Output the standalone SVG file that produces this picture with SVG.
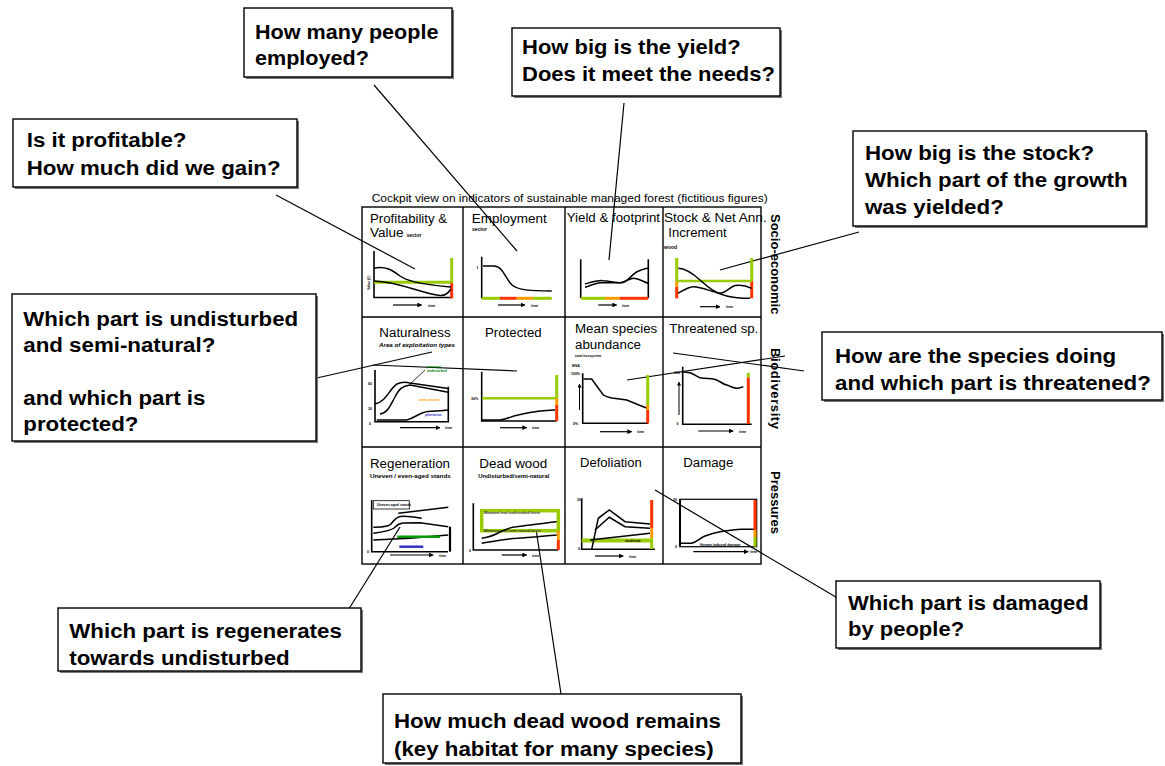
<svg xmlns="http://www.w3.org/2000/svg" width="1165" height="766" viewBox="0 0 1165 766">
<defs>
<style>
.q{font-family:"Liberation Sans",Arial,sans-serif;font-weight:bold;font-size:20px;fill:#000}
.box{fill:#fff;stroke:#000;stroke-width:1.4}
.sh{fill:#777;stroke:none}
.conn{stroke:#000;stroke-width:1.2;fill:none}
.grid{stroke:#000;stroke-width:1.4;fill:none}
.t{font-family:"Liberation Sans",Arial,sans-serif;font-size:12px;fill:#000}
.hd{font-family:"Liberation Sans",Arial,sans-serif;font-size:10.5px;fill:#000}
.side{font-family:"Liberation Sans",Arial,sans-serif;font-weight:bold;font-size:13px;fill:#000}
.s{font-family:"Liberation Sans",Arial,sans-serif;font-weight:bold;font-size:5px;fill:#000}
.xs{font-family:"Liberation Sans",Arial,sans-serif;font-weight:bold;font-size:3.5px;fill:#000}
.ax{stroke:#000;stroke-width:1.6;fill:none}
.cv{stroke:#000;stroke-width:1.5;fill:none}
.g{stroke:#99cc00;stroke-width:3;fill:none}
.o{stroke:#ff9900;stroke-width:3;fill:none}
.r{stroke:#ff3300;stroke-width:3;fill:none}
.arr{stroke:#000;stroke-width:1.2;fill:none;marker-end:url(#ah)}
</style>
<marker id="ah" viewBox="0 0 10 10" refX="9" refY="5" markerWidth="4" markerHeight="4" orient="auto">
<path d="M0,0 L10,5 L0,10 z" fill="#000"/>
</marker>
</defs>
<rect x="0" y="0" width="1165" height="766" fill="#fff"/>

<!-- connectors -->
<g id="connectors">
<line class="conn" x1="276" y1="195" x2="415" y2="269"/>
<line class="conn" x1="374" y1="85" x2="517" y2="251"/>
<line class="conn" x1="624" y1="103" x2="609" y2="260"/>
<line class="conn" x1="859" y1="232" x2="720" y2="270"/>
<line class="conn" x1="804" y1="371" x2="673" y2="353"/>
<line class="conn" x1="785" y1="356" x2="627" y2="380"/>
<line class="conn" x1="268" y1="389" x2="432" y2="352"/>
<line class="conn" x1="373" y1="365" x2="517" y2="371"/>
<line class="conn" x1="400" y1="527" x2="342" y2="620"/>
<line class="conn" x1="536" y1="529" x2="563" y2="707"/>
<line class="conn" x1="655" y1="490" x2="851" y2="606"/>
</g>

<!-- callouts -->
<g id="q-profit">
<rect class="sh" x="15" y="121" width="284" height="68"/>
<rect class="box" x="13" y="119" width="284" height="68"/>
<text class="q" transform="translate(26.7,147.3) scale(1.115,1)">Is it profitable?</text>
<text class="q" transform="translate(26.7,175) scale(1.115,1)">How much did we gain?</text>
</g>
<g id="q-employ">
<rect class="sh" x="246" y="10" width="208" height="69"/>
<rect class="box" x="244" y="8" width="208" height="69"/>
<text class="q" transform="translate(255,38.5) scale(1.08,1)">How many people</text>
<text class="q" transform="translate(255,65) scale(1.08,1)">employed?</text>
</g>
<g id="q-yield">
<rect class="sh" x="514" y="30" width="268" height="68"/>
<rect class="box" x="512" y="28" width="268" height="68"/>
<text class="q" transform="translate(522,54) scale(1.1,1)">How big is the yield?</text>
<text class="q" transform="translate(522,81) scale(1.1,1)">Does it meet the needs?</text>
</g>
<g id="q-stock">
<rect class="sh" x="855" y="133" width="293" height="95"/>
<rect class="box" x="853" y="131" width="293" height="95"/>
<text class="q" transform="translate(865,160) scale(1.115,1)">How big is the stock?</text>
<text class="q" transform="translate(865,187.3) scale(1.115,1)">Which part of the growth</text>
<text class="q" transform="translate(865,214) scale(1.115,1)">was yielded?</text>
</g>
<g id="q-species">
<rect class="sh" x="824" y="334" width="340" height="68"/>
<rect class="box" x="822" y="332" width="340" height="68"/>
<text class="q" transform="translate(835,363.3) scale(1.115,1)">How are the species doing</text>
<text class="q" transform="translate(835,390) scale(1.115,1)">and which part is threatened?</text>
</g>
<g id="q-natural">
<rect class="sh" x="14" y="296" width="304" height="147"/>
<rect class="box" x="12" y="294" width="304" height="147"/>
<text class="q" transform="translate(23.3,326) scale(1.115,1)">Which part is undisturbed</text>
<text class="q" transform="translate(23.3,352.3) scale(1.115,1)">and semi-natural?</text>
<text class="q" transform="translate(23.3,404.6) scale(1.115,1)">and which part is</text>
<text class="q" transform="translate(23.3,430.8) scale(1.115,1)">protected?</text>
</g>
<g id="q-regen">
<rect class="sh" x="60" y="610" width="303" height="63"/>
<rect class="box" x="58" y="608" width="303" height="63"/>
<text class="q" transform="translate(69.3,638.3) scale(1.115,1)">Which part is regenerates</text>
<text class="q" transform="translate(69.3,665) scale(1.115,1)">towards undisturbed</text>
</g>
<g id="q-damage">
<rect class="sh" x="838" y="583" width="264" height="67"/>
<rect class="box" x="836" y="581" width="264" height="67"/>
<text class="q" transform="translate(848,610) scale(1.1,1)">Which part is damaged</text>
<text class="q" transform="translate(848,636) scale(1.1,1)">by people?</text>
</g>
<g id="q-deadwood">
<rect class="sh" x="385" y="696" width="358" height="69"/>
<rect class="box" x="383" y="694" width="358" height="69"/>
<text class="q" transform="translate(394,728.3) scale(1.115,1)">How much dead wood remains</text>
<text class="q" transform="translate(394,755.5) scale(1.115,1)">(key habitat for many species)</text>
</g>

<!-- cockpit grid -->
<g id="cockpit">
<text class="hd" x="371.7" y="201.7" textLength="396" lengthAdjust="spacingAndGlyphs">Cockpit view on indicators of sustainable managed forest (fictitious figures)</text>
<rect class="grid" x="362" y="207" width="399" height="357"/>
<line class="grid" x1="463" y1="207" x2="463" y2="564"/>
<line class="grid" x1="565" y1="207" x2="565" y2="564"/>
<line class="grid" x1="663" y1="207" x2="663" y2="564"/>
<line class="grid" x1="362" y1="317" x2="761" y2="317"/>
<line class="grid" x1="362" y1="447" x2="761" y2="447"/>
<text class="side" transform="translate(770.5,214) rotate(90)">Socio-economic</text>
<text class="side" transform="translate(770.5,348) rotate(90)" letter-spacing="0.6">Biodiversity</text>
<text class="side" transform="translate(770.5,471) rotate(90)">Pressures</text>
</g>

<g id="cell-profitability">
<text class="t" x="370" y="223.3" textLength="77" lengthAdjust="spacingAndGlyphs">Profitability &amp;</text>
<text class="t" x="370" y="236.7" textLength="33.5" lengthAdjust="spacingAndGlyphs">Value</text>
<text class="s" x="406.5" y="236.7">sector</text>
<path class="ax" d="M374,251 V297.5 H451"/>
<line class="g" x1="374" y1="282.3" x2="451" y2="282.3"/>
<line class="g" x1="451.7" y1="258" x2="451.7" y2="283"/>
<line class="r" x1="451.7" y1="283" x2="451.7" y2="298.5"/>
<path class="cv" d="M374,268 C386,266 392,270 400,276 C410,283 430,285 451,287"/>
<path class="cv" d="M374,281 C400,282 420,293 440,295.5 C446,296 449,292 451,289"/>
<text class="xs" transform="translate(370,290) rotate(-90)">Value (€)</text>
<line class="arr" x1="393" y1="305" x2="421.7" y2="305"/>
<text class="xs" x="428" y="306.5">time</text>
</g>

<g id="cell-employment">
<text class="t" x="471.7" y="223.3" textLength="75" lengthAdjust="spacingAndGlyphs">Employment</text>
<text class="s" x="472" y="231">sector</text>
<path class="ax" d="M481.7,256.7 V298.3"/>
<line class="g" x1="482" y1="298.3" x2="500" y2="298.3"/>
<line class="r" x1="500" y1="298.3" x2="516.7" y2="298.3"/>
<line class="o" x1="516.7" y1="298.3" x2="533.3" y2="298.3"/>
<line class="g" x1="533.3" y1="298.3" x2="551.7" y2="298.3"/>
<path class="cv" d="M483,266 L494,266 C503,266 506,280 512,285 C518,290 530,291 551.7,291"/>
<text class="xs" x="476.5" y="268.5">1</text>
<line class="arr" x1="498" y1="305" x2="525" y2="305"/>
<text class="xs" x="531" y="306.5">time</text>
</g>

<g id="cell-yield">
<text class="t" x="566.7" y="222.3" textLength="93.3" lengthAdjust="spacingAndGlyphs">Yield &amp; footprint</text>
<path class="ax" d="M580.7,259.3 V298 M648.3,259.3 V298"/>
<line class="g" x1="581" y1="298.3" x2="605" y2="298.3"/>
<line class="o" x1="605" y1="298.3" x2="620" y2="298.3"/>
<line class="r" x1="620" y1="298.3" x2="648.3" y2="298.3"/>
<path class="cv" d="M585,284 C592,282 598,280 603,280.7 C610,281 615,283 622,282.7 C628,282 632,274 637,271.7 C641,270 645,268.5 648,268.3"/>
<path class="cv" d="M585,287.3 C592,285 596,283 600,282.7 C607,282.5 614,283 620,282.7 C626,282 630,278 634,278.3 C640,279 644,282 648,283.3"/>
<line class="arr" x1="598.3" y1="305" x2="616.7" y2="305"/>
<text class="xs" x="622" y="306.5">time</text>
</g>

<g id="cell-stock">
<text class="t" x="664" y="222.3" textLength="102.7" lengthAdjust="spacingAndGlyphs">Stock &amp; Net Ann.</text>
<text class="t" x="668.3" y="237.3" textLength="58.3" lengthAdjust="spacingAndGlyphs">Increment</text>
<text class="s" x="664" y="249.3">wood</text>
<line class="g" x1="676.7" y1="258" x2="676.7" y2="281"/>
<line class="o" x1="676.7" y1="281" x2="676.7" y2="287"/>
<line class="r" x1="676.7" y1="287" x2="676.7" y2="298.3"/>
<line class="g" x1="751.7" y1="258" x2="751.7" y2="281"/>
<line class="r" x1="751.7" y1="281" x2="751.7" y2="298.3"/>
<line class="g" x1="677" y1="281" x2="752" y2="281" style="stroke-width:2.5"/>
<path class="cv" d="M678.3,268.3 C684,268.5 690,271 700,280 C708,287 716,294 726.7,296 C735,298 744,298.3 750,298.3"/>
<path class="cv" d="M678,293.3 C684,290 688,287 693.3,286.7 C700,286.5 710,291 718,293 C726,294 729,287 735,285.5 C741,284.5 747,286 751.7,288.3"/>
<line class="arr" x1="700" y1="306.7" x2="720" y2="306.7"/>
<text class="xs" x="726" y="308">time</text>
</g>

<g id="cell-naturalness">
<text class="t" x="379.3" y="336.7" textLength="71.3" lengthAdjust="spacingAndGlyphs">Naturalness</text>
<text class="s" x="379" y="346.7" textLength="76" lengthAdjust="spacingAndGlyphs" font-style="italic">Area of exploitation types</text>
<path class="ax" d="M375,370 V421.7 H448.3 V386.7"/>
<path class="cv" d="M375,404 C386,402 390,388 397,384 C401,382 406,382 410,383 L448.3,388.5"/>
<path class="cv" d="M380,414 C388,413 391,404 395,397 C399,389 402,386 410,385 L448.3,392.3"/>
<path class="cv" d="M376.7,420 L406.7,420 C415,418 420,412 428,411.5 C436,411 442,410.5 448.3,410"/>
<line stroke="#000" stroke-width="0.8" x1="410" y1="384" x2="425" y2="370"/>
<text class="xs" x="426.7" y="367.5" style="fill:#008000">primary/</text>
<text class="xs" x="426.7" y="371.5" style="fill:#008000">undisturbed</text>
<text class="xs" x="418.3" y="401" style="fill:#ff9900">semi-natural</text>
<text class="xs" x="425" y="416" style="fill:#3333cc">plantation</text>
<text class="xs" x="368" y="385">60</text>
<text class="xs" x="368" y="410">30</text>
<text class="xs" x="369" y="425">0</text>
<line class="arr" x1="400" y1="427.7" x2="440" y2="427.7"/>
<text class="xs" x="445" y="429">time</text>
</g>

<g id="cell-protected">
<text class="t" x="485" y="336.7" textLength="56.7" lengthAdjust="spacingAndGlyphs">Protected</text>
<path class="ax" d="M481.7,371.7 V421 H556.7"/>
<line class="g" x1="482" y1="398.3" x2="556.7" y2="398.3" style="stroke-width:2.5"/>
<line class="g" x1="556.7" y1="375" x2="556.7" y2="398.3"/>
<line class="o" x1="556.7" y1="398.3" x2="556.7" y2="405"/>
<line class="r" x1="556.7" y1="405" x2="556.7" y2="421"/>
<path class="cv" d="M482,420 L500,420 C508,419 512,416 518,415 C526,413 532,412 540,411 C546,410.5 551,410 555,410"/>
<text class="xs" x="471" y="399.5">30%</text>
<line class="arr" x1="500" y1="427.7" x2="526.7" y2="427.7"/>
<text class="xs" x="532" y="429">time</text>
</g>

<g id="cell-msa">
<text class="t" x="575" y="332.7" textLength="82.3" lengthAdjust="spacingAndGlyphs">Mean species</text>
<text class="t" x="575" y="349.3" textLength="66" lengthAdjust="spacingAndGlyphs">abundance</text>
<text class="xs" x="575" y="357.3">total ecosystem</text>
<path class="ax" d="M582.7,373.3 V423.3 H648.3"/>
<line stroke="#000" stroke-width="1" x1="579.5" y1="410" x2="579.5" y2="384" marker-end="url(#ah)"/>
<path class="cv" d="M583.3,379 L591.7,379 L603.3,395 C606,397 608,397.3 612,398 L626.7,400 L643.3,406.7 L647.3,408.3"/>
<line class="g" x1="647.7" y1="375" x2="647.7" y2="405"/>
<line class="o" x1="647.7" y1="405" x2="647.7" y2="410"/>
<line class="r" x1="647.7" y1="410" x2="647.7" y2="423.3"/>
<text class="xs" x="572" y="366.5">MSA</text>
<text class="xs" x="571" y="375">100%</text>
<text class="xs" x="573" y="424.5">0%</text>
<line class="arr" x1="600" y1="431.7" x2="631.7" y2="431.7"/>
<text class="xs" x="637" y="433">time</text>
</g>

<g id="cell-threatened">
<text class="t" x="669.3" y="332.7" textLength="89" lengthAdjust="spacingAndGlyphs">Threatened sp.</text>
<path class="ax" d="M682.7,366.7 V424.3 H751.7"/>
<line stroke="#000" stroke-width="1" x1="679" y1="415" x2="679" y2="382" marker-end="url(#ah)"/>
<path class="cv" d="M681.7,371.7 C686,372 688,372.5 690,372.7 C694,374 697,377 700,377.7 C705,378.5 709,378.5 713.3,379 C719,380 722,384 726.7,385 C731,386.5 734,388.3 737,388.3 C740,388.3 742,387 743.3,386.7"/>
<line class="g" x1="748.3" y1="372.7" x2="748.3" y2="377.7"/>
<line class="r" x1="748.3" y1="377.7" x2="748.3" y2="424"/>
<text class="xs" x="674" y="373.5">100</text>
<text class="xs" x="676.5" y="425">0</text>
<line class="arr" x1="698.3" y1="431" x2="733.3" y2="431"/>
<text class="xs" x="739" y="432.5">time</text>
</g>

<g id="cell-regeneration">
<text class="t" x="370" y="468.3" textLength="80" lengthAdjust="spacingAndGlyphs">Regeneration</text>
<text class="s" x="370" y="478.3" textLength="80.7" lengthAdjust="spacingAndGlyphs">Uneven / even-aged stands</text>
<rect x="373.3" y="500.7" width="36" height="8.3" fill="#fff" stroke="#000" stroke-width="0.8"/>
<text class="xs" x="377" y="506">Uneven-aged stands</text>
<path class="ax" d="M371.7,500 V551.7 H448"/>
<path class="cv" d="M398.3,513.3 L448.3,507.3"/>
<path class="cv" d="M373.3,527.3 C382,527 388,527 391,524 C394,520 396,517.5 400,516.5 C406,515.5 414,517 421.7,518.3"/>
<path class="cv" d="M373.3,533.3 C383,532 390,531 394,528 C397,525 398,523.5 403,523 L420,522.7 L448.3,526.7"/>
<path class="cv" d="M373.3,540 L410,538.3 L448.3,535"/>
<line stroke="#009900" stroke-width="2.5" x1="397.3" y1="536.7" x2="440" y2="536.7"/>
<line stroke="#3333cc" stroke-width="2.5" x1="399.3" y1="546.7" x2="423.3" y2="546.7"/>
<line stroke="#000" stroke-width="2.2" x1="450" y1="526.7" x2="450" y2="551.7"/>
<text class="xs" x="367" y="553">0</text>
<line class="arr" x1="390" y1="555" x2="433.3" y2="555"/>
<text class="xs" x="439" y="556.5">time</text>
</g>

<g id="cell-deadwood">
<text class="t" x="479.3" y="468.3" textLength="68" lengthAdjust="spacingAndGlyphs">Dead wood</text>
<text class="s" x="478.3" y="478.3" textLength="71" lengthAdjust="spacingAndGlyphs">Undisturbed/semi-natural</text>
<path class="ax" d="M473.3,503.3 V550 H558.3"/>
<rect x="481.7" y="510.7" width="76.6" height="20" fill="none" stroke="#99cc00" stroke-width="3.5"/>
<text class="xs" x="484" y="513.5" style="fill:#333">Minimum level undisturbed forest</text>
<text class="xs" x="484" y="532.2" style="fill:#333">Minimum level semi-natural forest</text>
<line class="o" x1="558.3" y1="530.7" x2="558.3" y2="540"/>
<line class="r" x1="558.3" y1="540" x2="558.3" y2="550"/>
<path class="cv" d="M481.7,538.3 C490,537 495,535 500,532 C506,529 510,527 516.7,526.7 C530,525 545,523 556.7,521.7"/>
<path class="cv" d="M481.7,543.3 C495,541 505,539 516.7,538.3 C530,537 545,536 556.7,535"/>
<text class="xs" x="469" y="552">0</text>
<line class="arr" x1="501.7" y1="555" x2="526.7" y2="555"/>
<text class="xs" x="532" y="556.5">time</text>
</g>

<g id="cell-defoliation">
<text class="t" x="580" y="466.7" textLength="61.7" lengthAdjust="spacingAndGlyphs">Defoliation</text>
<path class="ax" d="M581.7,498.3 V549.3 H655"/>
<line class="g" x1="581.7" y1="540.5" x2="651.7" y2="540.5" style="stroke-width:4"/>
<line class="r" x1="651.7" y1="500" x2="651.7" y2="528.3"/>
<line class="o" x1="651.7" y1="528.3" x2="651.7" y2="538.3"/>
<line class="g" x1="651.7" y1="538.3" x2="651.7" y2="549"/>
<path class="cv" d="M591.7,549.3 L598.3,518.3 L609.3,510 L625,521.7 L650,524"/>
<path class="cv" d="M595,530 L609.3,517.3 L625,526.7 L650,528.3"/>
<path class="cv" d="M590,540 L650,533.3"/>
<text class="xs" x="577" y="500.5">20</text>
<text class="xs" x="578" y="550">0</text>
<text class="xs" x="625" y="542">moderate</text>
<line class="arr" x1="595" y1="556" x2="623.3" y2="556"/>
<text class="xs" x="629" y="557.5">time</text>
</g>

<g id="cell-damage">
<text class="t" x="683.3" y="466.7" textLength="50" lengthAdjust="spacingAndGlyphs">Damage</text>
<rect x="680" y="499.3" width="76.7" height="47.4" fill="none" stroke="#000" stroke-width="1.2"/>
<line stroke="#000" stroke-width="2" x1="680" y1="499.3" x2="680" y2="546.7"/>
<path class="cv" d="M680,543.3 L691.7,543.3 C697,542 700,538 705,536 C710,534 715,532.5 720,531.7 C728,530.5 735,529.5 741.7,529.3 L755,529.3"/>
<line class="r" x1="755" y1="500" x2="755" y2="530"/>
<line class="o" x1="755" y1="530" x2="755" y2="537"/>
<line class="g" x1="755" y1="537" x2="755" y2="546.7"/>
<text class="xs" x="700" y="545.5">Human induced damage</text>
<text class="xs" x="673" y="501">20</text>
<text class="xs" x="675" y="548">0</text>
<line class="arr" x1="693.3" y1="551.7" x2="748.3" y2="551.7"/>
<text class="xs" x="750" y="553">time</text>
</g>
</svg>
